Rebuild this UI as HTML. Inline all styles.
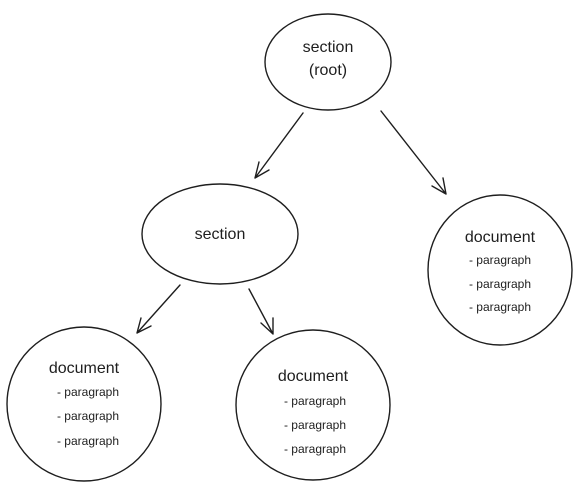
<!DOCTYPE html>
<html><head><meta charset="utf-8"><style>
html,body{margin:0;padding:0;background:#fff;}
svg{display:block}
text{font-family:"Liberation Sans",sans-serif;fill:#1e1e1e;text-anchor:middle}
.t{font-size:16px}
.p{font-size:12px}
</style></head><body>
<svg width="588" height="490" viewBox="0 0 588 490" xmlns="http://www.w3.org/2000/svg">
<g fill="none" stroke="#1e1e1e" stroke-width="1.4" stroke-linecap="round">
<ellipse cx="328" cy="62" rx="63" ry="48"/>
<ellipse cx="220" cy="234" rx="78" ry="50"/>
<ellipse cx="500" cy="270" rx="72" ry="75"/>
<ellipse cx="84" cy="404" rx="77" ry="77"/>
<ellipse cx="313" cy="405" rx="77" ry="75"/>
<path d="M303 113 L255 178 M255 178 L259 162 M255 178 L269 170"/>
<path d="M381 111 L446 194 M446 194 L432 186 M446 194 L443 178"/>
<path d="M180 285 L137 333 M137 333 L141 318 M137 333 L151 326"/>
<path d="M249 289 L273 334 M273 334 L261 323 M273 334 L273 318"/>
</g>
<text class="t" x="328" y="52">section</text>
<text class="t" x="328" y="75">(root)</text>
<text class="t" x="220" y="239">section</text>
<text class="t" x="500" y="242">document</text>
<text class="p" x="500" y="264">- paragraph</text>
<text class="p" x="500" y="288">- paragraph</text>
<text class="p" x="500" y="311">- paragraph</text>
<text class="t" x="84" y="373">document</text>
<text class="p" x="88" y="396">- paragraph</text>
<text class="p" x="88" y="420">- paragraph</text>
<text class="p" x="88" y="445">- paragraph</text>
<text class="t" x="313" y="381">document</text>
<text class="p" x="315" y="405">- paragraph</text>
<text class="p" x="315" y="429">- paragraph</text>
<text class="p" x="315" y="453">- paragraph</text>
</svg>
</body></html>
